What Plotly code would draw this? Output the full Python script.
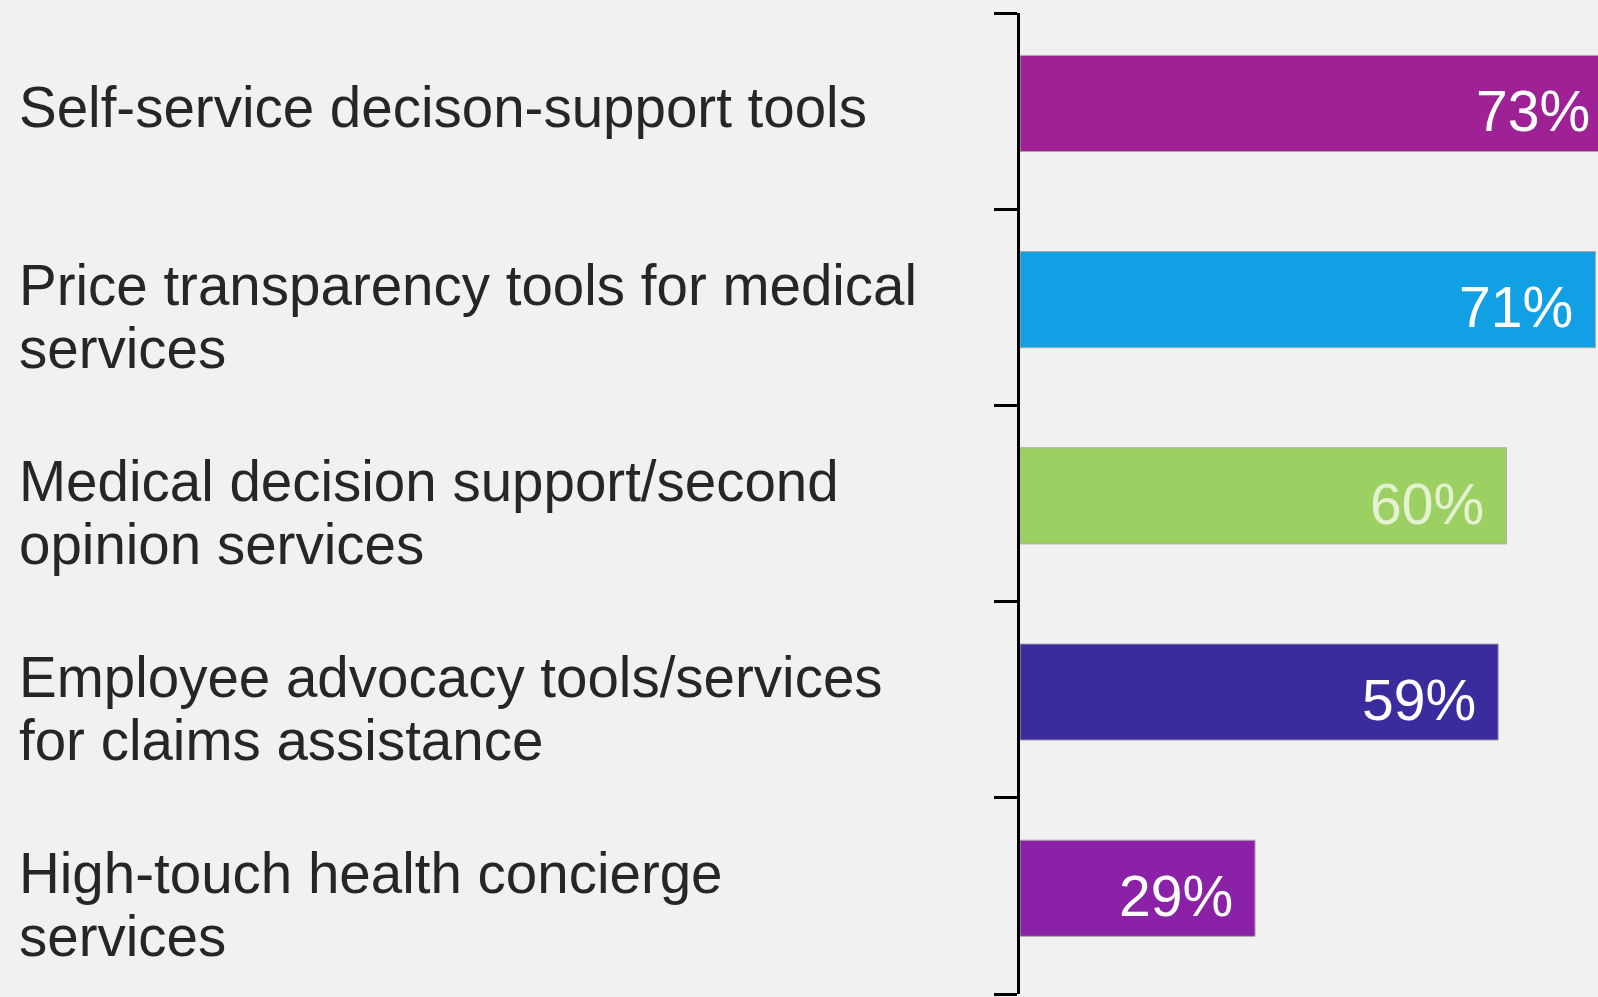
import plotly.graph_objects as go

# Survey results: share of employers offering each tool/service
categories = [
    "Self-service decison-support tools",
    "Price transparency tools for medical<br>services",
    "Medical decision support/second<br>opinion services",
    "Employee advocacy tools/services<br>for claims assistance",
    "High-touch health concierge<br>services",
]
values = [73, 71, 60, 59, 29]
bar_colors = ["#9e2196", "#12a0e4", "#9dd062", "#3a2c9c", "#8b21a6"]
label_colors = ["#ffffff", "#ffffff", "#e4f2d2", "#ffffff", "#ffffff"]

FONT = "Liberation Sans, Arial, Helvetica, sans-serif"
BG = "#f1f1f1"

W, H = 1636, 997
ML, MR, MT, MB = 1020, 0, 13, 3
X_MAX = 76
plot_w = W - ML - MR

fig = go.Figure(
    go.Bar(
        x=values,
        y=list(range(len(categories))),
        orientation="h",
        width=0.49,
        offset=-0.284,
        marker=dict(color=bar_colors, line=dict(color="#a9a9a9", width=1)),
        hoverinfo="skip",
    )
)

annotations = []

# value labels, right-aligned inside each bar end
for i, v in enumerate(values):
    annotations.append(dict(
        x=v, y=i, xref="x", yref="y",
        text=f"{v}%", showarrow=False,
        xanchor="right", yanchor="middle",
        xshift=-20, yshift=0,
        font=dict(family=FONT, size=57, color=label_colors[i]),
    ))

# category labels, left-aligned at the page edge, one annotation per line
LINE_STEP = 63
label_x = (17 - ML) / plot_w
for i, cat in enumerate(categories):
    lines = cat.split("<br>")
    n = len(lines)
    center = -3.5 + 13 * (n - 1)
    for j, line in enumerate(lines):
        off = center + (j - (n - 1) / 2) * LINE_STEP
        annotations.append(dict(
            x=label_x, y=i, xref="paper", yref="y",
            text=line, showarrow=False,
            xanchor="left", yanchor="middle",
            yshift=-off,
            font=dict(family=FONT, size=56.5, color="#262626"),
        ))

fig.update_layout(
    width=W, height=H,
    margin=dict(l=ML, r=MR, t=MT, b=MB, pad=0),
    paper_bgcolor=BG, plot_bgcolor=BG,
    showlegend=False,
    annotations=annotations,
    xaxis=dict(range=[0, X_MAX], visible=False, fixedrange=True),
    yaxis=dict(
        type="linear",
        range=[len(categories) - 0.5, -0.5],
        tickmode="array",
        tickvals=[k - 0.5 for k in range(len(categories) + 1)],
        showticklabels=False,
        showgrid=False, zeroline=False,
        showline=True, linecolor="#000000", linewidth=3,
        ticks="outside", ticklen=23, tickwidth=3, tickcolor="#000000",
        fixedrange=True,
    ),
)

fig.write_html(
    "out.html",
    config={"displayModeBar": False},
    post_script="document.body.style.margin='0';document.body.style.overflow='hidden';",
)
